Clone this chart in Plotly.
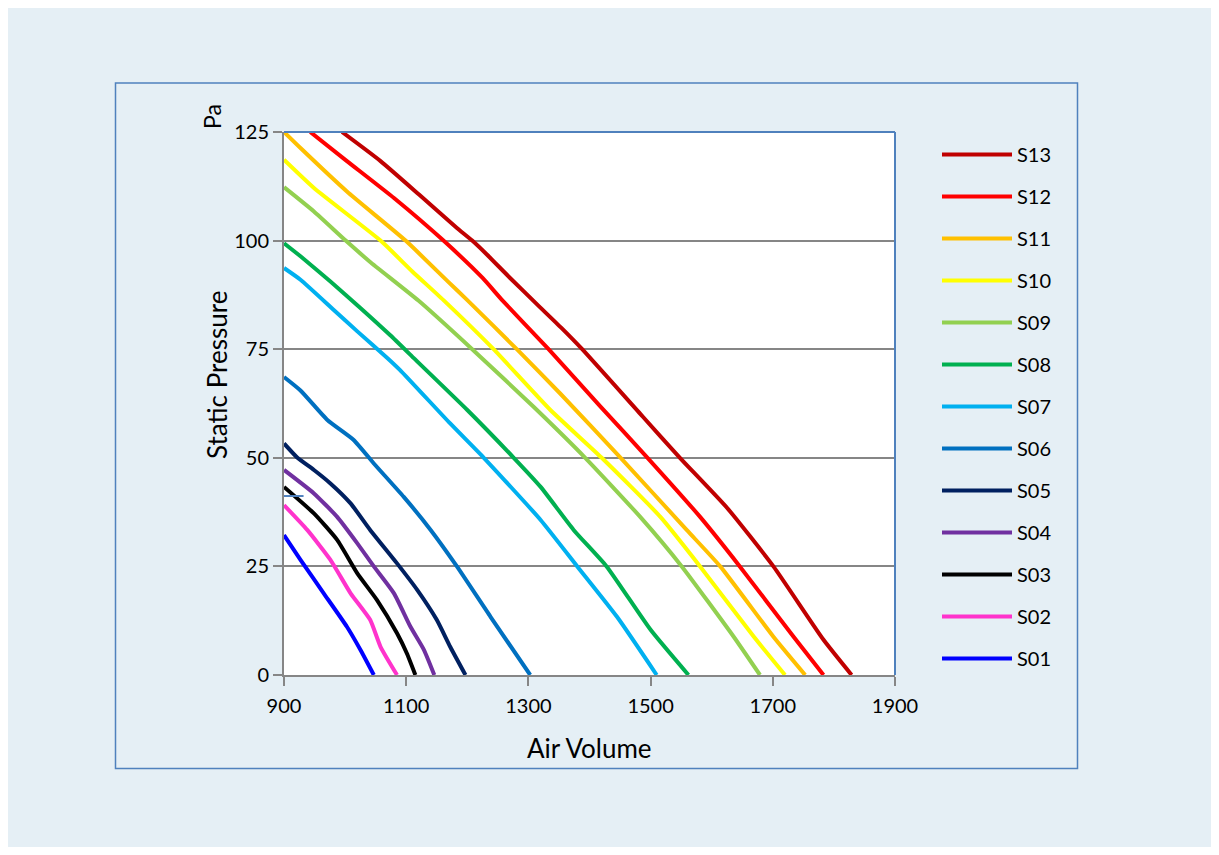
import plotly.graph_objects as go

# ---- data ----
names = ["S01", "S02", "S03", "S04", "S05", "S06", "S07",
         "S08", "S09", "S10", "S11", "S12", "S13"]
colors = ["#0000FF", "#FF33CC", "#000000", "#7030A0", "#002060", "#0070C0", "#00B0F0",
          "#00B050", "#92D050", "#FFFF00", "#FFC000", "#FF0000", "#C00000"]

s01_x = [900, 927, 965, 1003, 1025, 1047]
s01_y = [32.2, 26.5, 18.8, 11.1, 5.8, 0]
s02_x = [900, 938, 976, 1009, 1041, 1058, 1085]
s02_y = [39.1, 33.4, 26.5, 18.8, 12.7, 6.5, 0]
s03_x = [900, 949, 987, 1020, 1052, 1085, 1101, 1115]
s03_y = [43.3, 37.2, 31.1, 23.4, 17.3, 9.6, 5.0, 0]
s04_x = [900, 949, 987, 1020, 1047, 1080, 1107, 1129, 1146]
s04_y = [47.2, 41.8, 36.4, 30.3, 25.0, 18.8, 11.1, 5.8, 0]
s05_x = [900, 922, 949, 976, 1009, 1041, 1085, 1118, 1150, 1172, 1197]
s05_y = [53.3, 50.0, 47.2, 44.1, 39.5, 33.4, 25.7, 19.6, 12.7, 6.5, 0]
s06_x = [900, 927, 971, 1014, 1047, 1096, 1140, 1183, 1238, 1303]
s06_y = [68.6, 65.5, 58.7, 54.1, 48.7, 41.0, 33.4, 25.0, 13.4, 0]
s07_x = [900, 927, 981, 1020, 1069, 1090, 1172, 1227, 1320, 1380, 1445, 1510]
s07_y = [93.7, 91.0, 84.1, 79.1, 73.0, 70.2, 57.9, 50.0, 35.7, 25.0, 13.4, 0]
s08_x = [900, 927, 976, 1025, 1074, 1112, 1200, 1276, 1320, 1374, 1428, 1500, 1562]
s08_y = [99.4, 96.4, 90.6, 84.5, 78.2, 73.0, 61.0, 50.0, 43.3, 33.4, 25.0, 10.4, 0]
s09_x = [900, 949, 1001, 1040, 1120, 1208, 1308, 1393, 1483, 1551, 1636, 1679]
s09_y = [112.3, 106.7, 100.0, 95.2, 86.2, 75.0, 61.8, 50.0, 36.4, 25.0, 8.8, 0]
s10_x = [900, 949, 1058, 1110, 1161, 1243, 1336, 1420, 1516, 1581, 1669, 1720]
s10_y = [118.6, 112.1, 100.0, 92.9, 86.3, 75.0, 61.0, 50.0, 36.4, 25.0, 8.8, 0]
s11_x = [900, 927, 1003, 1099, 1168, 1200, 1281, 1352, 1451, 1559, 1614, 1701, 1753]
s11_y = [125.0, 121.3, 111.3, 100.0, 90.6, 86.3, 75.0, 64.8, 50.0, 33.4, 25.0, 8.8, 0]
s12_x = [943, 1003, 1080, 1161, 1225, 1257, 1333, 1418, 1495, 1581, 1646, 1734, 1783]
s12_y = [125.0, 118.3, 109.8, 100.0, 91.4, 86.3, 75.0, 61.8, 50.0, 36.4, 25.0, 8.8, 0]
s13_x = [995, 1058, 1121, 1183, 1208, 1232, 1270, 1315, 1354, 1388, 1487, 1548, 1625, 1701, 1783, 1829]
s13_y = [125.0, 118.3, 110.6, 102.9, 100.0, 96.8, 91.4, 85.2, 79.9, 75.0, 59.5, 50.0, 38.5, 25.0, 8.1, 0]

xs = [s01_x, s02_x, s03_x, s04_x, s05_x, s06_x, s07_x, s08_x, s09_x, s10_x, s11_x, s12_x, s13_x]
ys = [s01_y, s02_y, s03_y, s04_y, s05_y, s06_y, s07_y, s08_y, s09_y, s10_y, s11_y, s12_y, s13_y]

x_ticks = [900, 1100, 1300, 1500, 1700, 1900]
y_ticks = [0, 25, 50, 75, 100, 125]

FONT = "Lato, 'Open Sans', sans-serif"
BG = "#E5EFF5"
FRAME = "#4F81BD"
GRAY = "#868686"

fig = go.Figure()
for i, (n, c, x, y) in enumerate(zip(names, colors, xs, ys)):
    fig.add_trace(go.Scatter(x=x, y=y, mode="lines", name=n, legendgroup=n,
                             legendrank=100 - i,
                             line=dict(color=c, width=4, shape="spline", smoothing=0.5)))

# figure sits inside the page's 8px body margin
W, H = 1203, 839
L, R, T, B = 276, 887, 124, 667
pw, ph = R - L, B - T

def px(xp):
    return (xp - L) / pw

def py(yp):
    return (B - yp) / ph

fig.update_layout(
    width=W, height=H,
    paper_bgcolor=BG, plot_bgcolor="white",
    margin=dict(l=L, r=W - R, t=T, b=H - B, autoexpand=False),
    font=dict(family=FONT, size=20, color="#000000"),
    showlegend=True,
    legend=dict(traceorder="grouped", tracegroupgap=13,
                x=px(929), xanchor="left", y=py(127), yanchor="top",
                bgcolor="rgba(0,0,0,0)", font=dict(size=20, family=FONT),
                itemwidth=70),
    xaxis=dict(range=[900, 1900], tickvals=x_ticks, ticks="outside", ticklen=9,
               tickcolor=GRAY, tickwidth=2, showline=True, linecolor=GRAY, linewidth=2,
               showgrid=False, zeroline=False, tickfont=dict(size=20), ticklabelstandoff=3),
    yaxis=dict(range=[0, 125], tickvals=y_ticks, ticks="outside", ticklen=9,
               tickcolor=GRAY, tickwidth=2, showline=True, linecolor=GRAY, linewidth=2,
               showgrid=True, gridcolor=GRAY, gridwidth=1.5, zeroline=False,
               tickfont=dict(size=20), ticklabelstandoff=0),
    shapes=[
        # outer chart frame
        dict(type="rect", xref="paper", yref="paper", layer="below",
             x0=px(107.5), x1=px(1069.5), y0=py(760.5), y1=py(75),
             line=dict(color=FRAME, width=1.5), fillcolor="rgba(0,0,0,0)"),
        # plot-area border top/right
        dict(type="line", xref="paper", yref="paper", x0=0, x1=1, y0=1, y1=1,
             line=dict(color=FRAME, width=2)),
        dict(type="line", xref="paper", yref="paper", x0=1, x1=1, y0=0, y1=1,
             line=dict(color=FRAME, width=2)),
        # small stray mark near axis
        dict(type="line", xref="x", yref="y", x0=900, x1=932, y0=41.2, y1=41.2,
             line=dict(color=FRAME, width=2)),
    ],
    annotations=[
        dict(text="Static Pressure", xref="paper", yref="paper", x=px(209), y=py(367),
             showarrow=False, textangle=-90, font=dict(size=26, family=FONT),
             xanchor="center", yanchor="middle"),
        dict(text="Pa", xref="paper", yref="paper", x=px(204), y=py(109),
             showarrow=False, textangle=-90, font=dict(size=23, family=FONT),
             xanchor="center", yanchor="middle"),
        dict(text="Air Volume", xref="paper", yref="paper", x=px(581), y=py(740),
             showarrow=False, font=dict(size=26, family=FONT),
             xanchor="center", yanchor="middle"),
    ],
)

fig.write_html("out.html")
